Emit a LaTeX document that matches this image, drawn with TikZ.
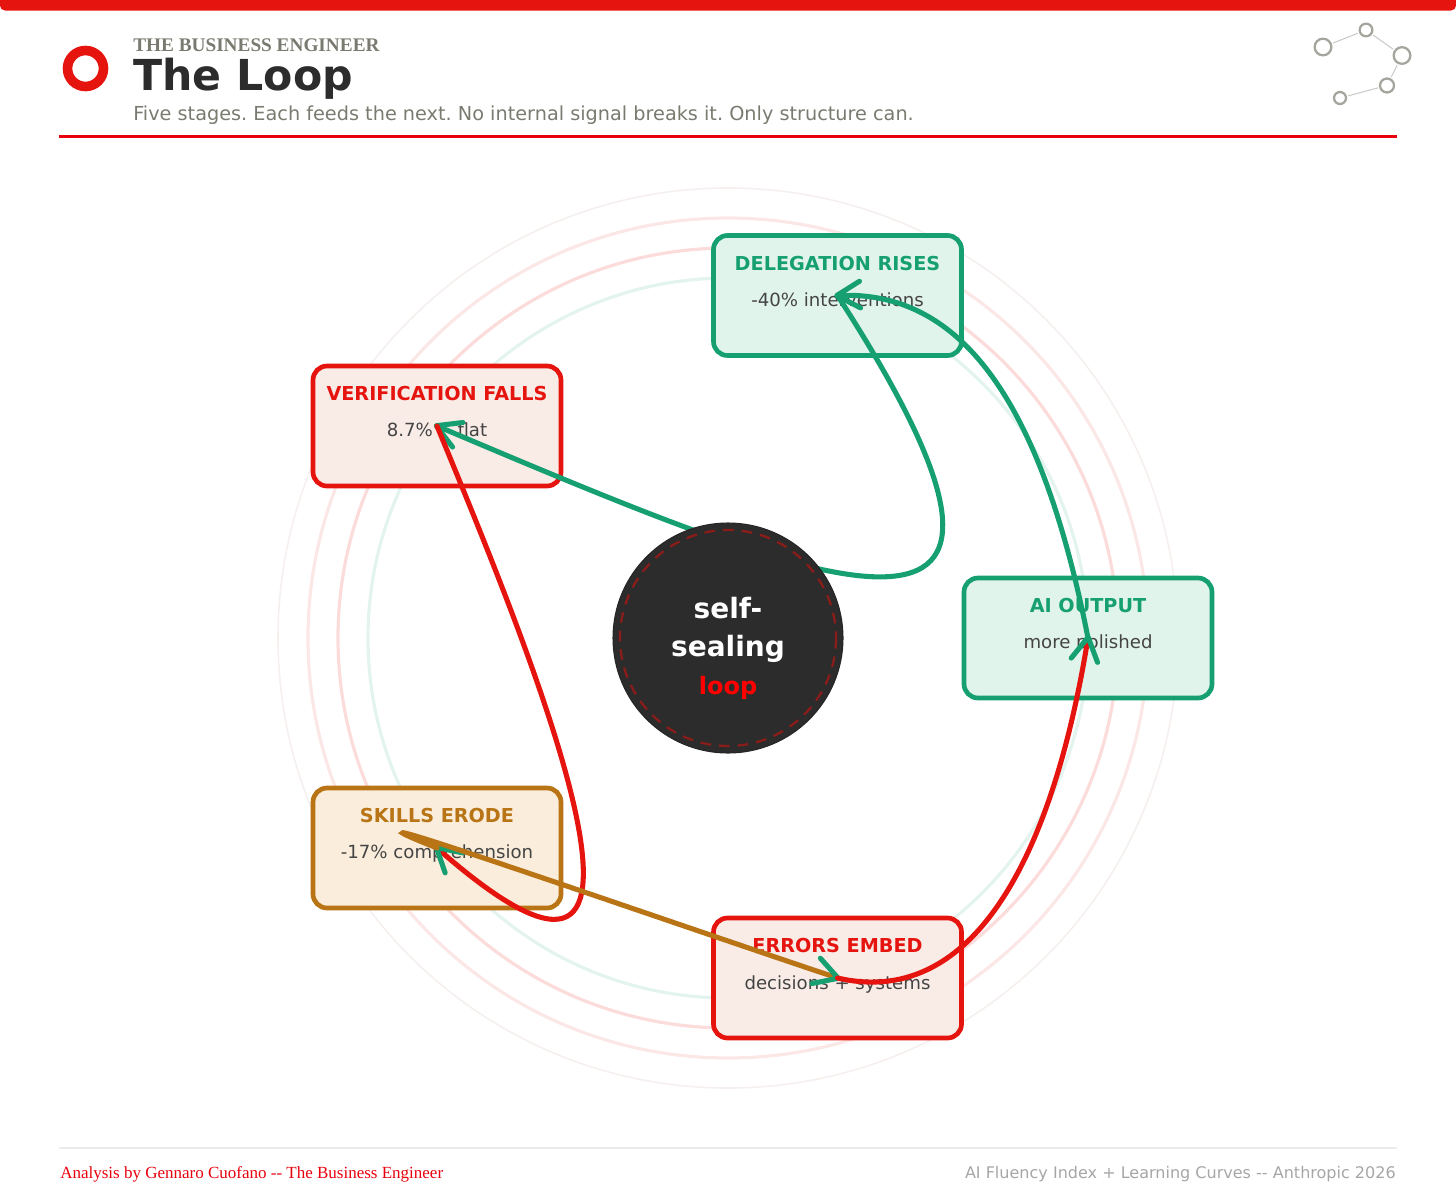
\documentclass[tikz,border=0pt]{standalone}
\usepackage{fontspec}
\setmainfont{DejaVu Sans}
\newfontfamily\serifhead{Liberation Serif}
\usetikzlibrary{arrows.meta}
\frenchspacing
\definecolor{tbered}{HTML}{E6140E}
\definecolor{tbeline}{HTML}{E8000C}
\definecolor{tbegreen}{HTML}{16A071}
\definecolor{tbeamber}{HTML}{B87415}
\definecolor{tbedark}{HTML}{2C2C2C}
\definecolor{tbegrey}{HTML}{7A7A70}
\definecolor{tbebody}{HTML}{444444}
\definecolor{tberedfill}{HTML}{F9ECE7}
\definecolor{tbegreenfill}{HTML}{E1F4EC}
\definecolor{tbeamberfill}{HTML}{FAEDDB}
\definecolor{tbepale}{HTML}{F5F0EE}
\definecolor{tbedash}{HTML}{8A1C1A}
\newcommand\fsz[1]{\fontsize{#1}{#1}\selectfont}
\tikzset{
  stagebox/.style={draw,line width=3.5pt,rounded corners=10.5pt,minimum width=186pt,minimum height=90pt,inner sep=0pt},
  greenbox/.style={stagebox,draw=tbegreen,fill=tbegreenfill},
  redbox/.style={stagebox,draw=tbered,fill=tberedfill},
  amberbox/.style={stagebox,draw=tbeamber,fill=tbeamberfill},
  stagetitle/.style={inner sep=0pt,anchor=base,font=\bfseries\fsz{14.4}},
  stagesub/.style={inner sep=0pt,anchor=base,text=tbebody,font=\fsz{13.6}},
  flow/.style={line width=3.8pt,line cap=round,-{Straight Barb[length=17.5pt,width=20pt,line width=3.8pt,round,sep=-2.5pt,color=tbegreen]}},
  iconnode/.style={circle,draw=black!5!tbegrey!65,line width=1.7pt,inner sep=0pt,fill=white},
  iconline/.style={draw=tbegrey!40,line width=.8pt,shorten >=1pt,shorten <=1pt},
  ring/.style={line width=2.4pt},
}
\begin{document}
\begin{tikzpicture}[x=.75pt,y=-.75pt]
\useasboundingbox (0,0) rectangle (1456,1199);
% header
\fill[tbered,rounded corners=3.7pt] (0,-10) rectangle (1456,10.5);
\node[circle,draw=tbered,line width=7.2pt,minimum size=27pt,inner sep=0pt] (logo) at (85.5,68.5) {};
\node[inner sep=0pt,anchor=base west,text=tbegrey,font=\serifhead\bfseries\fsz{14.45}] (brand) at (133,51) {THE BUSINESS ENGINEER};
\node[inner sep=0pt,anchor=base west,text=tbedark,font=\bfseries\fsz{32}] (title) at (133,90) {The Loop};
\node[inner sep=0pt,anchor=base west,text=tbegrey,font=\fsz{14.45}] (subtitle) at (133,120) {Five stages. Each feeds the next. No internal signal breaks it. Only structure can.};
\coordinate (hruleL) at (59,136.5);
\coordinate (hruleR) at (1397,136.5);
\draw[tbeline,line width=1.6pt] (hruleL) -- (hruleR);
% icon
\node[iconnode,minimum size=12.5pt] (i1) at (1323,47) {};
\node[iconnode,minimum size=9.5pt] (i2) at (1366,30) {};
\node[iconnode,minimum size=12.5pt] (i3) at (1402,55.5) {};
\node[iconnode,minimum size=10.5pt] (i4) at (1387,85.5) {};
\node[iconnode,minimum size=9pt] (i5) at (1340,98) {};
\draw[iconline] (i1) -- (i2);
\draw[iconline] (i2) -- (i3);
\draw[iconline] (i3) -- (i4);
\draw[iconline] (i4) -- (i5);
% rings
\coordinate (hub) at (728,638);
\draw[ring,draw=tbegreen!12] (hub) circle[radius=360];
\draw[ring,draw=tbered!15] (hub) circle[radius=390];
\draw[ring,draw=tbered!10] (hub) circle[radius=420];
\draw[line width=1.2pt,draw=tbepale] (hub) circle[radius=450];
% boxes
\node[greenbox] (deleg) at (837.5,295.5) {};
\node[redbox] (verif) at (437,426) {};
\node[greenbox] (aiout) at (1088,638) {};
\node[amberbox] (skills) at (437,848) {};
\node[redbox] (errors) at (837.5,978) {};
\node[stagetitle,text=tbegreen] (delegT) at (837.5,270) {DELEGATION RISES};
\node[stagesub] (delegS) at (837.5,306) {-40\% interventions};
\node[stagetitle,text=tbered] (verifT) at (437,400.5) {VERIFICATION FALLS};
\node[stagesub] (verifS) at (437,436.5) {8.7\% -{}- flat};
\node[stagetitle,text=tbegreen] (aioutT) at (1088,612.5) {AI OUTPUT};
\node[stagesub] (aioutS) at (1088,648.5) {more polished};
\node[stagetitle,text=tbeamber] (skillsT) at (437,822.5) {SKILLS ERODE};
\node[stagesub] (skillsS) at (437,858.5) {-17\% comprehension};
\node[stagetitle,text=tbered] (errorsT) at (837.5,952.5) {ERRORS EMBED};
\node[stagesub] (errorsS) at (837.5,989) {decisions + systems};
% flows
\draw[flow,tbegreen] (deleg.center) .. controls +(265,410) and +(392,166) .. (verif.center);
\draw[flow,tbered] (verif.center) .. controls +(93,226) and +(276,242) .. (skills.center);
\draw[flow,tbeamber] (skills.center) .. controls +(-145,-58) and +(-200,-67) .. (errors.center);
\draw[flow,tbered] (errors.center) .. controls +(130,30) and +(-38,232) .. (aiout.center);
\draw[flow,tbegreen] (aiout.center) .. controls +(-47,-238) and +(123,-5) .. (deleg.center);
% hub
\node[circle,draw=black!85,fill=tbedark,line width=.8pt,minimum size=172.5pt,inner sep=0pt] (hubdisk) at (hub) {};
\draw[tbedash,line width=1.7pt,dash pattern=on 8pt off 6pt] (hub) circle[radius=108];
\node[inner sep=0pt,anchor=base,text=white,font=\bfseries\fsz{21}] (hubA) at (728,618) {self-};
\node[inner sep=0pt,anchor=base,text=white,font=\bfseries\fsz{21}] (hubB) at (728,656) {sealing};
\node[inner sep=0pt,anchor=base,text=red,font=\bfseries\fsz{18}] (hubC) at (728,694) {loop};
% footer
\coordinate (fruleL) at (59,1147.5);
\coordinate (fruleR) at (1397,1147.5);
\draw[tbegrey!15,line width=1.5pt] (fruleL) -- (fruleR);
\node[inner sep=0pt,anchor=base west,text=tbeline,font=\serifhead\fsz{12.75}] (footL) at (60,1178) {Analysis by Gennaro Cuofano -{}- The Business Engineer};
\node[inner sep=0pt,anchor=base east,text=black!35,font=\fsz{12.02}] (footR) at (1396,1178) {AI Fluency Index + Learning Curves -{}- Anthropic 2026};
\end{tikzpicture}
\end{document}
